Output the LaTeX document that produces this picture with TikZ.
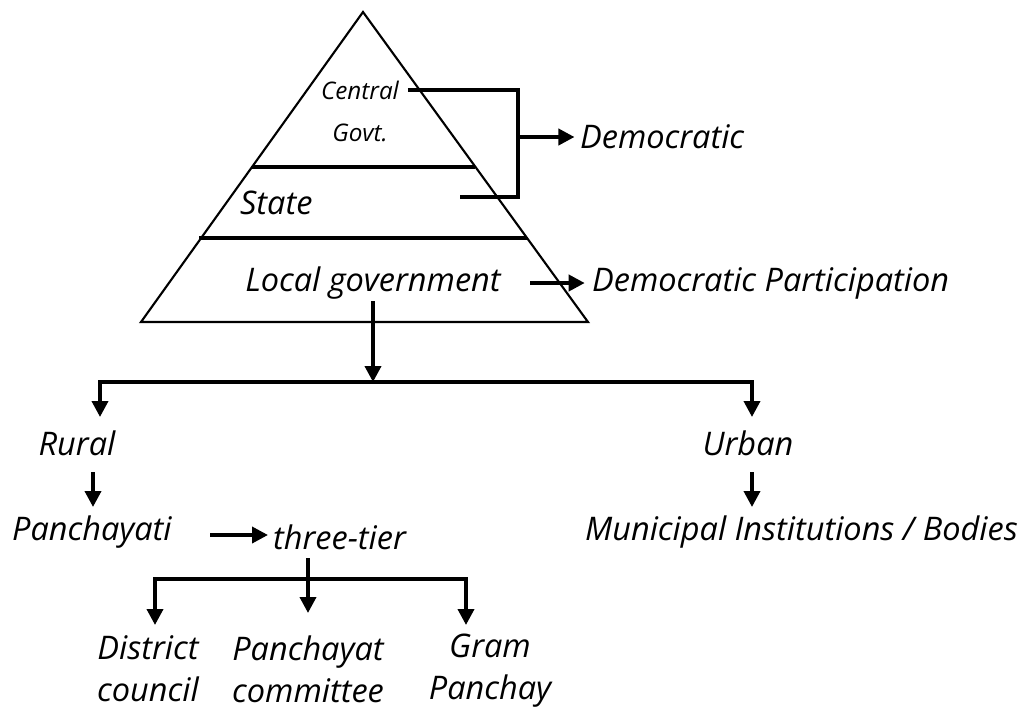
\documentclass[tikz,border=0pt]{standalone}
\usepackage{fontspec}
\setmainfont{Open Sans}
\usetikzlibrary{arrows.meta}
\usetikzlibrary{positioning}
\tikzset{
  lbl/.style={font=\fontsize{18.5}{24}\selectfont\itshape, inner sep=1pt},
  small/.style={font=\fontsize{13.8}{16}\selectfont\itshape, inner sep=1pt},
  link/.style={line width=2.1pt},
  arr/.style={line width=2.1pt, -{Triangle[length=3.2mm,width=3.2mm]}},
}
\begin{document}
\begin{tikzpicture}[x=0.02cm,y=-0.02cm]
\useasboundingbox (0,0) rectangle (1025,711);
% pyramid
\draw[line width=1.2pt] (363,12) -- (141,322) -- (588,322) -- cycle;
\draw[link] (252,167) -- (475,167);
\draw[link] (199,238) -- (527,238);
\node[small] (central) at (360,90) {Central};
\node[small] (govt) at (360,133) {Govt.};
\node[lbl, anchor=west] (state) at (238,203) {State};
\node[lbl] (local) at (373,283) {Local government};
\node[lbl, anchor=west] (dem) at (578,137) {Democratic};
\node[lbl, anchor=west] (demp) at (590,283) {Democratic Participation};
% branches
\node[lbl] (rural) at (77,443) {Rural};
\node[lbl] (urban) at (748,443) {Urban};
\node[lbl, anchor=west] (panch) at (10,532) {Panchayati};
\node[lbl, anchor=west] (three) at (271,537) {three-tier};
\node[lbl, anchor=west] (muni) at (583,532) {Municipal Institutions / Bodies};
\node[lbl, align=center] (district) at (148,669) {District\\council};
\node[lbl, align=center] (pcomm) at (308,669) {Panchayat\\committee};
\node[lbl, align=center] (gram) at (490,671) {Gram\\Panchay};
% connectors
\coordinate (bkbot) at (518,197);
\coordinate (stend) at (460,197);
\coordinate (locout) at (530,283);
\coordinate (split) at (373,382);
\coordinate (rtip) at (100,417);
\coordinate (utip) at (752,417);
\coordinate (rtop) at (93,472);
\coordinate (rend) at (93,507);
\coordinate (utop) at (752,472);
\coordinate (uend) at (752,507);
\coordinate (pout) at (210,535);
\coordinate (pend) at (268,535);
\coordinate (ttop) at (308,558);
\coordinate (tsplit) at (308,579);
\coordinate (ctip) at (308,613);
\coordinate (dtip) at (155,625);
\coordinate (gtip) at (466,625);
\draw[link, shorten <=4pt] (central.east) -| (bkbot) -- (stend);
\draw[arr, shorten >=2pt] (bkbot |- dem.west) -- (dem.west);
\draw[arr, shorten >=3pt] (locout) -- (demp.west);
\draw[arr] (local.south) -- (split);
\draw[arr] (split) -| (rtip);
\draw[arr] (split) -| (utip);
\draw[arr] (rtop) -- (rend);
\draw[arr] (utop) -- (uend);
\draw[arr] (pout) -- (pend);
\draw[arr] (ttop) -- (ctip);
\draw[arr] (tsplit) -| (dtip);
\draw[arr] (tsplit) -| (gtip);
\end{tikzpicture}
\end{document}
